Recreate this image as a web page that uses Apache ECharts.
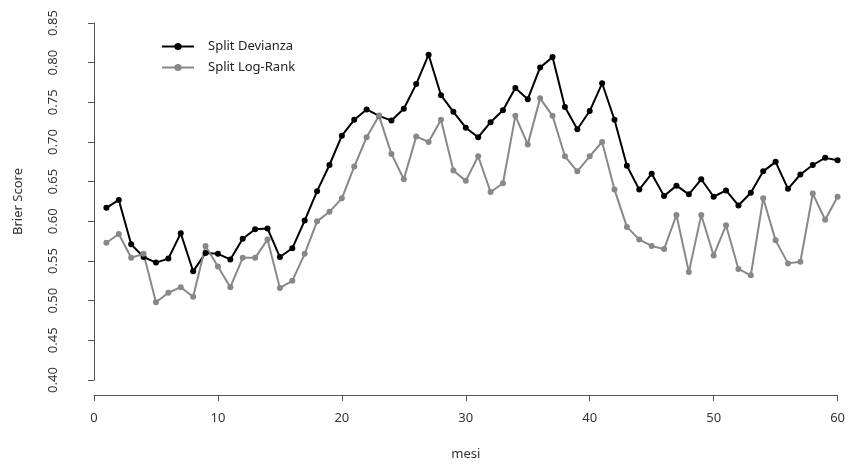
<!DOCTYPE html>
<html>
<head>
<meta charset="utf-8">
<script src="https://cdn.jsdelivr.net/npm/echarts@6/dist/echarts.min.js"></script>
<style>
html,body{margin:0;padding:0;background:#fff;}
#c{width:848px;height:466px;}
</style>
</head>
<body>
<div id="c"></div>
<script>
var months = [];
for (var m = 1; m <= 60; m++) months.push(m);

var splitDevianza = [
  0.617, 0.627, 0.571, 0.555, 0.548, 0.553, 0.585, 0.537, 0.560, 0.559,
  0.552, 0.578, 0.590, 0.591, 0.555, 0.566, 0.601, 0.638, 0.671, 0.708,
  0.728, 0.741, 0.733, 0.727, 0.742, 0.773, 0.810, 0.759, 0.738, 0.718,
  0.706, 0.725, 0.740, 0.768, 0.754, 0.794, 0.807, 0.744, 0.716, 0.739,
  0.774, 0.728, 0.670, 0.640, 0.660, 0.632, 0.645, 0.634, 0.653, 0.631,
  0.639, 0.620, 0.636, 0.663, 0.675, 0.641, 0.659, 0.671, 0.680, 0.677
];

var splitLogRank = [
  0.573, 0.584, 0.554, 0.559, 0.498, 0.510, 0.517, 0.505, 0.569, 0.543,
  0.517, 0.554, 0.554, 0.577, 0.516, 0.525, 0.559, 0.600, 0.612, 0.629,
  0.669, 0.706, 0.733, 0.685, 0.653, 0.707, 0.700, 0.728, 0.664, 0.651,
  0.682, 0.637, 0.648, 0.733, 0.697, 0.755, 0.733, 0.682, 0.663, 0.682,
  0.700, 0.640, 0.593, 0.577, 0.569, 0.565, 0.608, 0.536, 0.608, 0.557,
  0.595, 0.540, 0.532, 0.629, 0.576, 0.547, 0.549, 0.635, 0.602, 0.631
];

var seriesNames = ['Split Devianza', 'Split Log-Rank'];
var xTitle = 'mesi';
var yTitle = 'Brier Score';

function pairs(xs, ys) { return xs.map(function (x, i) { return [x, ys[i]]; }); }

var FONT = "'Noto Sans', sans-serif";
var chart = echarts.init(document.getElementById('c'), null, {renderer: 'canvas'});
chart.setOption({
  animation: false,
  backgroundColor: '#ffffff',
  textStyle: {fontFamily: FONT},
  grid: {left: 94, right: 10, top: 23, bottom: 81, containLabel: false},
  legend: {
    left: 156, top: 35, orient: 'vertical', itemGap: 8,
    itemWidth: 32, itemHeight: 9,
    textStyle: {fontFamily: FONT, fontSize: 13, color: '#222', padding: [0, 0, 0, 9]},
    data: seriesNames
  },
  xAxis: {
    type: 'value', min: 0, max: 60, interval: 10, offset: 15,
    name: xTitle, nameLocation: 'middle', nameGap: 53,
    nameTextStyle: {fontFamily: FONT, fontSize: 13, color: '#333'},
    axisLine: {show: true, lineStyle: {color: '#555', width: 1}},
    axisTick: {show: true, length: 6, lineStyle: {color: '#555'}},
    axisLabel: {fontFamily: FONT, fontSize: 13, color: '#333', margin: 17},
    splitLine: {show: false}
  },
  yAxis: {
    type: 'value', min: 0.40, max: 0.85, interval: 0.05, offset: 17,
    name: yTitle, nameLocation: 'middle', nameGap: 52, nameRotate: 90,
    nameTextStyle: {fontFamily: FONT, fontSize: 13, color: '#333'},
    axisLine: {show: true, lineStyle: {color: '#555', width: 1}},
    axisTick: {show: true, length: 6, lineStyle: {color: '#555'}},
    axisLabel: {fontFamily: FONT, fontSize: 13, color: '#333', margin: 17, rotate: 90,
      formatter: function (v) { return v.toFixed(2); }},
    splitLine: {show: false}
  },
  series: [
    {
      name: seriesNames[0], type: 'line', data: pairs(months, splitDevianza),
      symbol: 'circle', symbolSize: 6, clip: false,
      itemStyle: {color: '#000000'},
      lineStyle: {color: '#000000', width: 2}
    },
    {
      name: seriesNames[1], type: 'line', data: pairs(months, splitLogRank),
      symbol: 'circle', symbolSize: 6, clip: false,
      itemStyle: {color: '#888888'},
      lineStyle: {color: '#888888', width: 2}
    }
  ]
});
</script>
</body>
</html>
